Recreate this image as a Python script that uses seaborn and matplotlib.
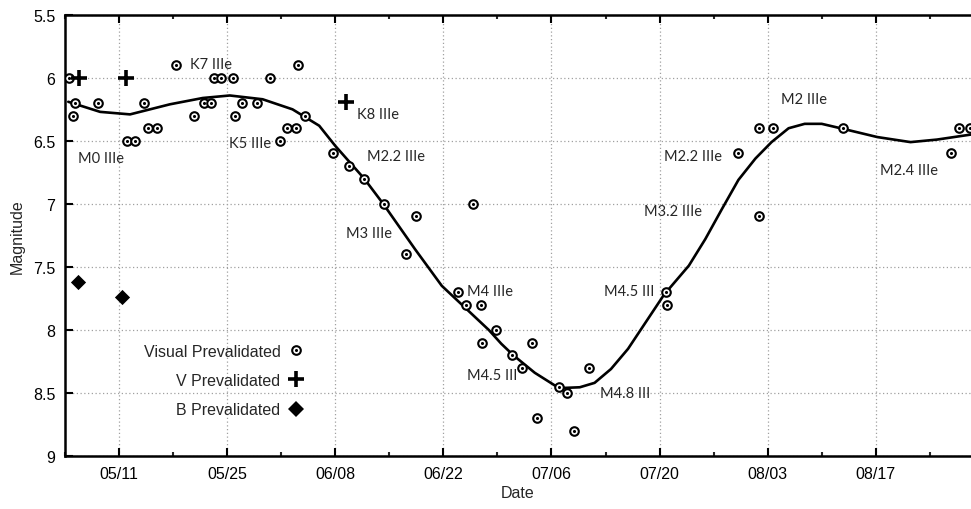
import numpy as np
import pandas as pd
import matplotlib
matplotlib.use('Agg')
import matplotlib.pyplot as plt
import matplotlib.dates as mdates
from matplotlib.lines import Line2D
from matplotlib.legend_handler import HandlerTuple
import seaborn as sns

YEAR = '2011-'

# visual estimates (prevalidated)
visual_dates = ['05-04 12:00', '05-05 00:00', '05-05 06:00', '05-08 06:00', '05-12 00:00',
                '05-13 00:00', '05-14 06:00', '05-14 18:00', '05-15 21:00', '05-18 09:00',
                '05-20 18:00', '05-22 00:00', '05-22 21:00', '05-23 06:00', '05-24 06:00',
                '05-25 18:00', '05-26 00:00', '05-26 21:00', '05-28 21:00', '05-30 12:00',
                '05-31 21:00', '06-01 18:00', '06-02 21:00', '06-03 03:00', '06-04 03:00',
                '06-07 18:00', '06-09 18:00', '06-11 18:00', '06-14 06:00', '06-17 03:00',
                '06-18 12:00', '06-23 21:00', '06-24 21:00', '06-25 21:00', '06-26 21:00',
                '06-27 00:00', '06-28 21:00', '06-30 21:00', '07-02 03:00', '07-03 12:00',
                '07-04 03:00', '07-07 00:00', '07-08 00:00', '07-08 21:00', '07-10 21:00',
                '07-20 21:00', '07-21 00:00', '07-30 03:00', '08-01 21:00', '08-01 21:00',
                '08-03 18:00', '08-12 18:00', '08-26 18:00', '08-27 18:00', '08-29 06:00']
visual_mags = [6.0, 6.3, 6.2, 6.2, 6.5,
               6.5, 6.2, 6.4, 6.4, 5.9,
               6.3, 6.2, 6.2, 6.0, 6.0,
               6.0, 6.3, 6.2, 6.2, 6.0,
               6.5, 6.4, 6.4, 5.9, 6.3,
               6.6, 6.7, 6.8, 7.0, 7.4,
               7.1, 7.7, 7.8, 7.0, 7.8,
               8.1, 8.0, 8.2, 8.3, 8.1,
               8.7, 8.45, 8.5, 8.8, 8.3,
               7.7, 7.8, 6.6, 6.4, 7.1,
               6.4, 6.4, 6.6, 6.4, 6.4]

# V band photometry
v_dates = ['05-05 18:00', '05-11 21:00', '06-09 10:00']
v_mags = [6.0, 6.0, 6.19]

# B band photometry
b_dates = ['05-05 17:00', '05-11 10:00']
b_mags = [7.62, 7.74]

# fitted light curve
fit_dates = ['05-04 10:00', '05-08 13:00', '05-12 10:00', '05-17 14:00', '05-21 20:00',
             '05-25 08:00', '05-29 14:00', '06-02 11:00', '06-05 22:00', '06-08 00:00',
             '06-11 18:00', '06-14 05:00', '06-18 08:00', '06-21 19:00', '06-27 21:00',
             '06-29 12:00', '07-01 01:00', '07-03 20:00', '07-06 10:00', '07-07 17:00',
             '07-09 16:00', '07-11 14:00', '07-13 17:00', '07-15 22:00', '07-20 14:00',
             '07-23 19:00', '07-25 22:00', '07-28 02:00', '07-30 05:00', '08-01 10:00',
             '08-03 12:00', '08-05 17:00', '08-07 19:00', '08-10 00:00', '08-12 19:00',
             '08-17 05:00', '08-21 12:00', '08-24 22:00', '08-29 08:00']
fit_mags = [6.19, 6.27, 6.29, 6.21, 6.16,
            6.14, 6.17, 6.25, 6.38, 6.54,
            6.80, 7.00, 7.36, 7.65, 8.00,
            8.11, 8.20, 8.34, 8.44, 8.46,
            8.455, 8.42, 8.31, 8.15, 7.72,
            7.49, 7.28, 7.04, 6.81, 6.64,
            6.51, 6.40, 6.365, 6.365, 6.405,
            6.47, 6.51, 6.49, 6.45]

# spectral type notes
note_labels = ['K7 IIIe', 'M0 IIIe', 'K5 IIIe', 'K8 IIIe', 'M2.2 IIIe', 'M3 IIIe',
               'M4 IIIe', 'M4.5 III', 'M4.8 III', 'M4.5 III', 'M3.2 IIIe', 'M2.2 IIIe',
               'M2 IIIe', 'M2.4 IIIe']
note_dates = ['05-20 04:00', '05-05 17:00', '05-25 07:00', '06-10 19:00', '06-12 02:00',
              '06-09 10:00', '06-25 00:00', '06-25 00:00', '07-12 07:00', '07-12 19:00',
              '07-18 00:00', '07-20 14:00', '08-04 17:00', '08-17 14:00']
note_mags = [5.89, 6.64, 6.52, 6.29, 6.62, 7.23,
             7.69, 8.36, 8.50, 7.69, 7.06, 6.62,
             6.17, 6.73]

tick_dates = ['05-11', '05-25', '06-08', '06-22', '07-06', '07-20', '08-03', '08-17']
minor_dates = ['05-04', '05-18', '06-01', '06-15', '06-29', '07-13', '07-27', '08-10', '08-24']
y_ticks = [5.5, 6, 6.5, 7, 7.5, 8, 8.5, 9]
y_tick_labels = ['5.5', '6', '6.5', '7', '7.5', '8', '8.5', '9']


def to_dt(lst):
    return pd.to_datetime([YEAR + d for d in lst])


visual = pd.DataFrame({'date': to_dt(visual_dates), 'mag': visual_mags})
vband = pd.DataFrame({'date': to_dt(v_dates), 'mag': v_mags})
bband = pd.DataFrame({'date': to_dt(b_dates), 'mag': b_mags})
fit = pd.DataFrame({'date': to_dt(fit_dates), 'mag': fit_mags})

sns.set_theme(style='ticks')
plt.rcParams['font.family'] = ['Liberation Sans', 'DejaVu Sans']

fig = plt.figure(figsize=(9.71, 5.10), dpi=100)
ax = fig.add_axes([0.067, 0.104, 0.933, 0.865])

sns.lineplot(data=fit, x='date', y='mag', color='black', linewidth=1.9, ax=ax, zorder=3)
sns.scatterplot(data=visual, x='date', y='mag', marker='o', s=38, facecolor='white',
                edgecolor='black', linewidth=1.5, ax=ax, zorder=4)
sns.scatterplot(data=visual, x='date', y='mag', marker='o', s=5, color='black',
                linewidth=0, ax=ax, zorder=5)
sns.scatterplot(data=vband, x='date', y='mag', marker='+', s=130, color='black',
                linewidth=2.6, ax=ax, zorder=4)
sns.scatterplot(data=bband, x='date', y='mag', marker='D', s=60, color='black',
                linewidth=0, ax=ax, zorder=4)

note_font = ['Lato', 'DejaVu Sans']
for lab, d, m in zip(note_labels, to_dt(note_dates), note_mags):
    ax.text(d, m, lab, ha='left', va='center', fontsize=10.5, family=note_font, zorder=6)

ax.set_xlim(pd.Timestamp(YEAR + '05-04 10:00'), pd.Timestamp(YEAR + '08-29 08:00'))
ax.set_ylim(9, 5.5)
ax.set_xticks(to_dt(tick_dates))
ax.set_xticks(to_dt(minor_dates), minor=True)
ax.xaxis.set_major_formatter(mdates.DateFormatter('%m/%d'))
ax.set_yticks(y_ticks)
ax.set_yticklabels(y_tick_labels)

ax.grid(True, which='major', linestyle=(0, (1, 2)), color='#a0a0a0', linewidth=0.9)
ax.set_axisbelow(True)

for side in ['left', 'bottom', 'top']:
    ax.spines[side].set_linewidth(1.8)
    ax.spines[side].set_color('black')
ax.spines['right'].set_visible(False)
ax.tick_params(axis='both', which='major', direction='in', length=6, width=1.5,
               labelsize=11.5, pad=7, top=True, right=False, colors='black')
ax.tick_params(axis='x', which='minor', direction='in', length=3, width=1.5, top=True)

ax.set_xlabel('Date', fontsize=11.5, labelpad=3)
ax.set_ylabel('Magnitude', fontsize=11.5, labelpad=6)

h_vis = (Line2D([], [], ls='none', marker='o', ms=6.2, mfc='white', mec='black', mew=1.5),
         Line2D([], [], ls='none', marker='o', ms=2.2, mfc='black', mec='black', mew=0))
h_v = Line2D([], [], ls='none', marker='+', ms=11.5, mec='black', mew=2.6)
h_b = Line2D([], [], ls='none', marker='D', ms=7.7, mfc='black', mec='black', mew=0)
ax.legend([h_vis, h_v, h_b], ['Visual Prevalidated', 'V Prevalidated', 'B Prevalidated'],
          handler_map={tuple: HandlerTuple(ndivide=1, pad=0)},
          loc='lower right', bbox_to_anchor=(0.28, 0.055), frameon=False,
          markerfirst=False, handlelength=1.0, handletextpad=0.5,
          labelspacing=0.9, fontsize=11.5)

fig.savefig('out.png', dpi=100)
